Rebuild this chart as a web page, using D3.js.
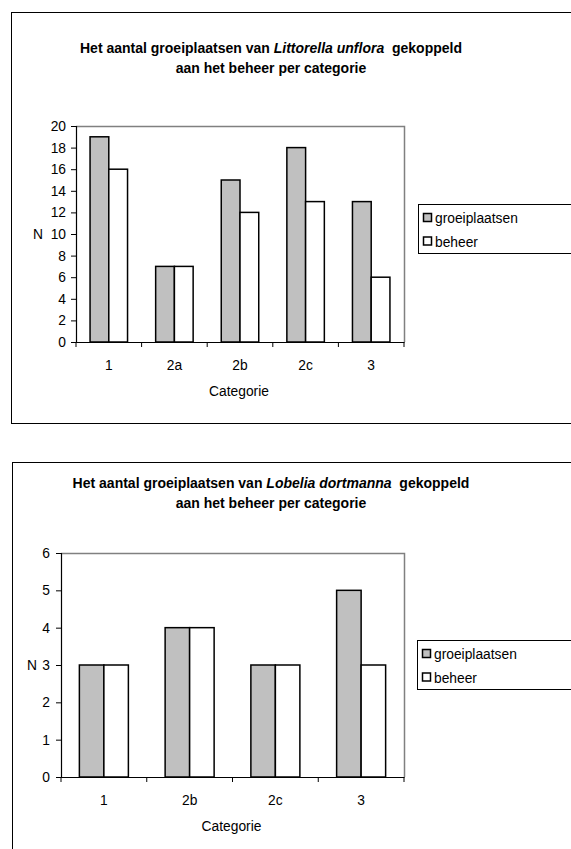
<!DOCTYPE html>
<html>
<head>
<meta charset="utf-8">
<script src="https://cdn.jsdelivr.net/npm/d3@7"></script>
<style>
  html, body { margin: 0; padding: 0; background: #fff; }
  svg { display: block; font-family: "Liberation Sans", Arial, sans-serif; }
</style>
</head>
<body>
<svg id="chart" width="571" height="849"></svg>
<script>
// Littorella unflora: number of sites and managed sites per category
const littorellaCategories = ["1", "2a", "2b", "2c", "3"];
const littorellaGroeiplaatsen = [19, 7, 15, 18, 13];
const littorellaBeheer = [16, 7, 12, 13, 6];
const littorellaTicks = [0, 2, 4, 6, 8, 10, 12, 14, 16, 18, 20];

// Lobelia dortmanna: number of sites and managed sites per category
const lobeliaCategories = ["1", "2b", "2c", "3"];
const lobeliaGroeiplaatsen = [3, 4, 3, 5];
const lobeliaBeheer = [3, 4, 3, 3];
const lobeliaTicks = [0, 1, 2, 3, 4, 5, 6];

const seriesNames = ["groeiplaatsen", "beheer"];
const seriesFill = ["#c0c0c0", "#ffffff"];

const FONT = "Liberation Sans, Arial, sans-serif";
const FS = 13.8;

const svg = d3.select("#chart");

function drawChart(opt) {
  const g = svg.append("g");

  // outer frame (runs off the right edge)
  g.append("rect")
    .attr("x", opt.frame.x + 0.5).attr("y", opt.frame.y + 0.5)
    .attr("width", opt.frame.w).attr("height", opt.frame.h)
    .attr("fill", "#fff").attr("stroke", "#000").attr("stroke-width", 1);

  // title: two lines, species name in italics
  const title = g.append("text")
    .attr("text-anchor", "middle")
    .attr("font-size", 14).attr("font-weight", "bold");
  const l1 = title.append("tspan").attr("x", opt.titleX).attr("y", opt.titleY);
  l1.append("tspan").text("Het aantal groeiplaatsen van ");
  l1.append("tspan").attr("font-style", "italic").text(opt.species);
  l1.append("tspan").attr("xml:space", "preserve").text("  gekoppeld");
  title.append("tspan").attr("x", opt.titleX).attr("y", opt.titleY + 20)
    .text("aan het beheer per categorie");

  const x = d3.scaleBand().domain(opt.categories)
    .range([opt.plot.left, opt.plot.right]).paddingInner(0).paddingOuter(0);
  const y = d3.scaleLinear().domain([0, opt.ticks[opt.ticks.length - 1]])
    .range([opt.plot.bottom, opt.plot.top]);

  // plot area border (grey top and right)
  g.append("path")
    .attr("d", `M${opt.plot.left},${opt.plot.top + 0.5}H${opt.plot.right + 0.5}V${opt.plot.bottom}`)
    .attr("fill", "none").attr("stroke", "#808080").attr("stroke-width", 1.5);

  // bars: bar width = category / 3.5 (gap 150%)
  const bw = x.bandwidth() / 3.5;
  const series = [opt.groei, opt.beheer];
  series.forEach((vals, si) => {
    g.append("g").selectAll("rect")
      .data(vals.map((v, i) => ({ c: opt.categories[i], v })))
      .join("rect")
      .attr("x", d => x(d.c) + (x.bandwidth() - 2 * bw) / 2 + si * bw)
      .attr("y", d => y(d.v))
      .attr("width", bw)
      .attr("height", d => y(0) - y(d.v))
      .attr("fill", seriesFill[si])
      .attr("stroke", "#000").attr("stroke-width", 1.5);
  });

  // y axis
  const ya = g.append("g")
    .attr("transform", `translate(${opt.plot.left},0)`)
    .call(d3.axisLeft(y).tickValues(opt.ticks).tickFormat(d3.format("d"))
      .tickSize(5).tickPadding(opt.yPad));
  ya.select(".domain").attr("stroke", "#000").attr("stroke-width", 1.2);
  ya.selectAll(".tick line").attr("stroke", "#000");
  ya.selectAll(".tick text").attr("font-size", FS).attr("fill", "#000")
    .attr("font-family", FONT);

  // x axis with ticks at category boundaries
  const xa = g.append("g")
    .attr("transform", `translate(0,${opt.plot.bottom})`)
    .call(d3.axisBottom(x).tickSize(0).tickPadding(18));
  xa.select(".domain").attr("stroke", "#000").attr("stroke-width", 1.2);
  xa.selectAll(".tick text").attr("font-size", FS).attr("fill", "#000")
    .attr("font-family", FONT);
  const bounds = opt.categories.map(c => x(c)).concat([x.range()[1]]);
  xa.append("g").selectAll("line").data(bounds).join("line")
    .attr("x1", d => d).attr("x2", d => d)
    .attr("y1", 0).attr("y2", 5)
    .attr("stroke", "#000");

  // axis titles
  g.append("text").attr("x", (opt.plot.left + opt.plot.right) / 2 - 1).attr("y", opt.plot.bottom + 54)
    .attr("text-anchor", "middle").attr("font-size", FS).text("Categorie");
  g.append("text").attr("x", opt.nX).attr("y", opt.nY)
    .attr("text-anchor", "middle").attr("font-size", FS).text("N");

  // legend
  const lg = g.append("g");
  lg.append("rect")
    .attr("x", opt.legend.x + 0.5).attr("y", opt.legend.y + 0.5)
    .attr("width", 200).attr("height", opt.legend.h)
    .attr("fill", "#fff").attr("stroke", "#000");
  seriesNames.forEach((name, i) => {
    const cy = opt.legend.y + 14 + i * 23.5;
    lg.append("rect")
      .attr("x", opt.legend.x + 5.5).attr("y", cy - 4.5)
      .attr("width", 8).attr("height", 8)
      .attr("fill", seriesFill[i]).attr("stroke", "#000").attr("stroke-width", 1.5);
    lg.append("text")
      .attr("x", opt.legend.x + 17).attr("y", cy + 5)
      .attr("font-size", FS).text(name);
  });
}

drawChart({
  frame: { x: 11, y: 12, w: 600, h: 411 },
  species: "Littorella unflora",
  titleX: 271, titleY: 53,
  categories: littorellaCategories,
  groei: littorellaGroeiplaatsen,
  beheer: littorellaBeheer,
  ticks: littorellaTicks,
  plot: { left: 76, right: 404, top: 126, bottom: 342 },
  yPad: 5,
  nX: 38, nY: 239,
  legend: { x: 418, y: 204, h: 49 }
});

drawChart({
  frame: { x: 12, y: 462, w: 600, h: 420 },
  species: "Lobelia dortmanna",
  titleX: 271, titleY: 488,
  categories: lobeliaCategories,
  groei: lobeliaGroeiplaatsen,
  beheer: lobeliaBeheer,
  ticks: lobeliaTicks,
  plot: { left: 61, right: 404, top: 553, bottom: 777 },
  yPad: 6,
  nX: 32, nY: 670,
  legend: { x: 417, y: 640, h: 49 }
});
</script>
</body>
</html>
